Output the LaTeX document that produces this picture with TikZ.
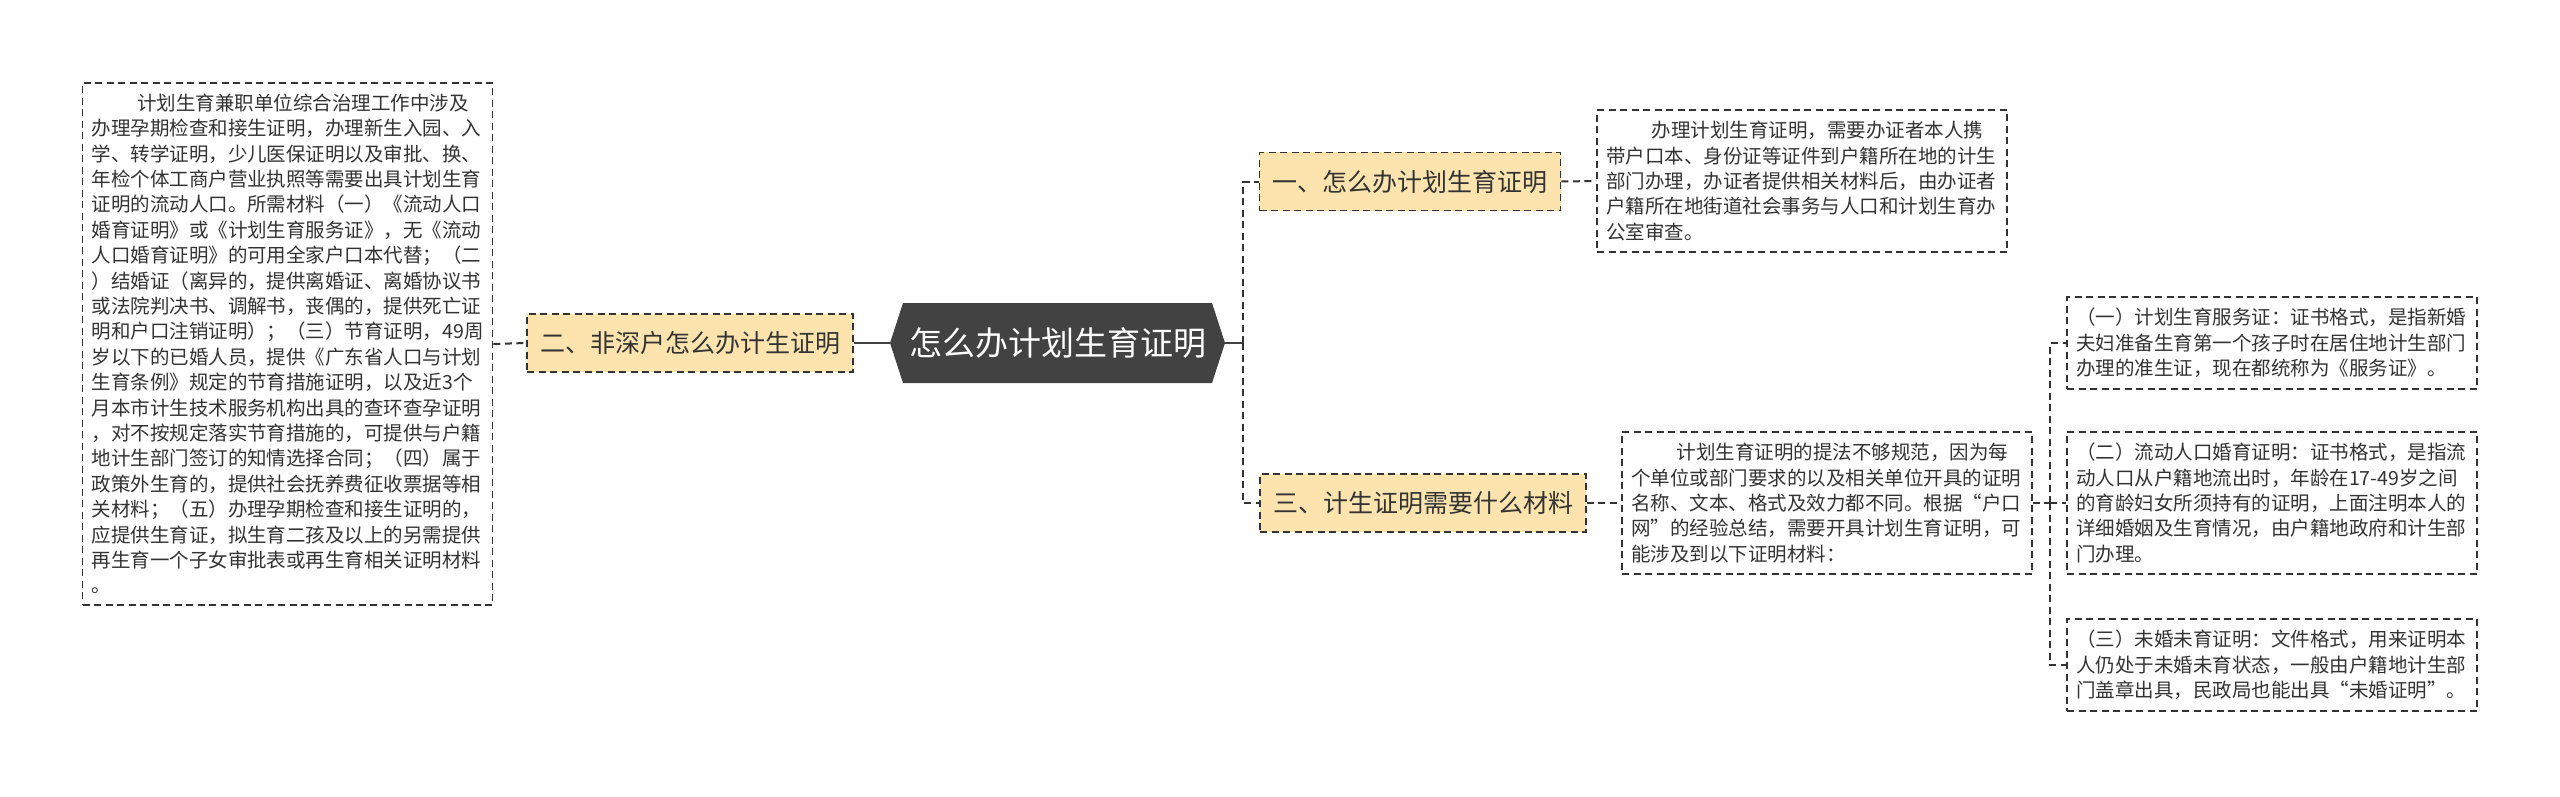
\documentclass[tikz,border=0pt]{standalone}
\usepackage{fontspec}
\newfontfamily\cjk{Noto Sans CJK SC}
\usepackage{tikz}
\usetikzlibrary{shapes.symbols}
\definecolor{inkgray}{HTML}{333333}
\definecolor{rootgray}{HTML}{424242}
\definecolor{branchfill}{HTML}{FDE4AE}

\begin{document}
\begin{tikzpicture}[x=1pt, y=-1pt,
    rootnode/.style={shape=signal, signal to=east and west, signal pointer angle=144,
      fill=rootgray, text=white, font=\cjk\fontsize{33pt}{40pt}\selectfont,
      minimum height=80pt, inner xsep=6pt, inner ysep=0pt},
    branchnode/.style={fill=branchfill, draw=inkgray, line width=1.6pt,
      dash pattern=on 7pt off 4.5pt, text=inkgray, font=\cjk\fontsize{25pt}{30pt}\selectfont,
      minimum height=58pt, inner xsep=13pt, inner ysep=0pt},
    notebox/.style={draw=inkgray, line width=1.6pt, dash pattern=on 7pt off 4.5pt,
      text=inkgray, font=\cjk\fontsize{19.5pt}{25.4pt}\selectfont, align=left,
      text width=392pt, inner xsep=9pt, inner ysep=11pt},
    link/.style={draw=inkgray, line width=2pt, dash pattern=on 7pt off 4.5pt},
    rootlink/.style={draw=rootgray, line width=2.5pt}]
    \fill[white] (0, 0) rectangle (2560, 797);
    \useasboundingbox (0, 0) rectangle (2560, 797);
    % centre and main branches
    \node[rootnode]   (root) at (1057.5, 343) {怎么办计划生育证明};
    \node[branchnode] (br2)  at (690, 343)    {二、非深户怎么办计生证明};
    \node[branchnode] (br1)  at (1410, 181.5) {一、怎么办计划生育证明};
    \node[branchnode] (br3)  at (1423, 503)   {三、计生证明需要什么材料};
    % notes
    \node[notebox] (note2) at (287.5, 344) {\hspace*{2.35em}计划生育兼职单位综合治理工作中涉及\\
      办理孕期检查和接生证明，办理新生入园、入\\
      学、转学证明，少儿医保证明以及审批、换、\\
      年检个体工商户营业执照等需要出具计划生育\\
      证明的流动人口。所需材料（一）《流动人口\\
      婚育证明》或《计划生育服务证》，无《流动\\
      人口婚育证明》的可用全家户口本代替；（二\\
      ）结婚证（离异的，提供离婚证、离婚协议书\\
      或法院判决书、调解书，丧偶的，提供死亡证\\
      明和户口注销证明）；（三）节育证明，49周\\
      岁以下的已婚人员，提供《广东省人口与计划\\
      生育条例》规定的节育措施证明，以及近3个\\
      月本市计生技术服务机构出具的查环查孕证明\\
      ，对不按规定落实节育措施的，可提供与户籍\\
      地计生部门签订的知情选择合同；（四）属于\\
      政策外生育的，提供社会抚养费征收票据等相\\
      关材料；（五）办理孕期检查和接生证明的，\\
      应提供生育证，拟生育二孩及以上的另需提供\\
      再生育一个子女审批表或再生育相关证明材料\\
      。};
    \node[notebox] (note1) at (1802, 181) {\hspace*{2.35em}办理计划生育证明，需要办证者本人携\\
      带户口本、身份证等证件到户籍所在地的计生\\
      部门办理，办证者提供相关材料后，由办证者\\
      户籍所在地街道社会事务与人口和计划生育办\\
      公室审查。};
    \node[notebox] (note3) at (1827, 503) {\hspace*{2.35em}计划生育证明的提法不够规范，因为每\\
      个单位或部门要求的以及相关单位开具的证明\\
      名称、文本、格式及效力都不同。根据“户口\\
      网”的经验总结，需要开具计划生育证明，可\\
      能涉及到以下证明材料：};
    \node[notebox] (sub1) at (2272, 343) {（一）计划生育服务证：证书格式，是指新婚\\
      夫妇准备生育第一个孩子时在居住地计生部门\\
      办理的准生证，现在都统称为《服务证》。};
    \node[notebox] (sub2) at (2272, 503) {（二）流动人口婚育证明：证书格式，是指流\\
      动人口从户籍地流出时，年龄在17-49岁之间\\
      的育龄妇女所须持有的证明，上面注明本人的\\
      详细婚姻及生育情况，由户籍地政府和计生部\\
      门办理。};
    \node[notebox] (sub3) at (2272, 665) {（三）未婚未育证明：文件格式，用来证明本\\
      人仍处于未婚未育状态，一般由户籍地计生部\\
      门盖章出具，民政局也能出具“未婚证明”。};
    % connectors
    \coordinate (rjoin) at (1243, 343);
    \coordinate (sjoin) at (2050, 503);
    \draw[rootlink] (root.west) -- (br2.east);
    \draw[rootlink] (root.east) -- (rjoin);
    \draw[link] (rjoin) |- (br1.west);
    \draw[link] (rjoin) |- (br3.west);
    \draw[link] (note2.east) -- (br2.west);
    \draw[link] (br1.east) -- (note1.west);
    \draw[link] (br3.east) -- (note3.west);
    \draw[link] (note3.east) -- (sjoin);
    \draw[link] (sjoin) |- (sub1.west);
    \draw[link] (sjoin) -- (sub2.west);
    \draw[link] (sjoin) |- (sub3.west);
  \end{tikzpicture}
\end{document}
